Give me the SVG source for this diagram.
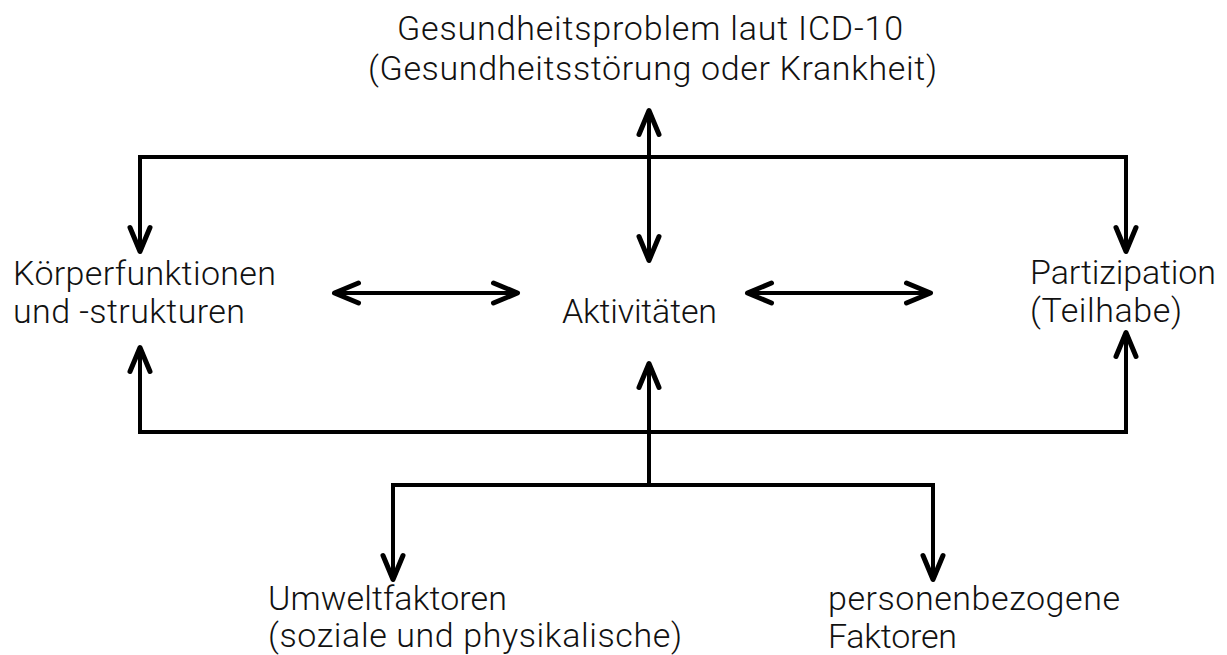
<svg xmlns="http://www.w3.org/2000/svg" width="1227" height="655" viewBox="0 0 1227 655">
  <style>
    .t { font-family: Roboto, "Liberation Sans", Arial, sans-serif; font-weight: 300; font-size: 34px; fill: #111; }
    .c { fill: none; stroke: #000; stroke-width: 4; stroke-linejoin: miter; }
  </style>
  <defs>
    <marker id="ah" markerUnits="userSpaceOnUse" orient="auto-start-reverse" refX="0" refY="0" markerWidth="40" markerHeight="30" viewBox="-30 -15 40 30" overflow="visible">
      <path d="M-24,-10 L0,0 L-24,10" fill="none" stroke="#000" stroke-width="5" stroke-linejoin="round" stroke-linecap="round"/>
    </marker>
  </defs>
  <rect width="1227" height="655" fill="#fff"/>

  <g id="connectors">
    <path class="c" d="M140,251.5 V157 H1126 V251.5" marker-start="url(#ah)" marker-end="url(#ah)"/>
    <path class="c" d="M649,110.5 V260.5" marker-start="url(#ah)" marker-end="url(#ah)"/>
    <path class="c" d="M334.5,293 H517.5" marker-start="url(#ah)" marker-end="url(#ah)"/>
    <path class="c" d="M747.5,293 H930.5" marker-start="url(#ah)" marker-end="url(#ah)"/>
    <path class="c" d="M140,347.5 V432 H1126 V332.5" marker-start="url(#ah)" marker-end="url(#ah)"/>
    <path class="c" d="M649,485 V363.5" marker-end="url(#ah)"/>
    <path class="c" d="M393,579.5 V485 H933 V579.5" marker-start="url(#ah)" marker-end="url(#ah)"/>
  </g>

  <g id="gesundheitsproblem">
    <text class="t" x="397" y="40" textLength="506" lengthAdjust="spacing">Gesundheitsproblem laut ICD-10</text>
    <text class="t" x="368" y="80" textLength="569" lengthAdjust="spacing">(Gesundheitsstörung oder Krankheit)</text>
  </g>
  <g id="koerperfunktionen">
    <text class="t" x="13" y="285" textLength="263" lengthAdjust="spacing">Körperfunktionen</text>
    <text class="t" x="13" y="323" textLength="232" lengthAdjust="spacing">und -strukturen</text>
  </g>
  <g id="aktivitaeten">
    <text class="t" x="562" y="323" textLength="155" lengthAdjust="spacing">Aktivitäten</text>
  </g>
  <g id="partizipation">
    <text class="t" x="1030" y="284" textLength="186" lengthAdjust="spacing">Partizipation</text>
    <text class="t" x="1030" y="322" textLength="152" lengthAdjust="spacing">(Teilhabe)</text>
  </g>
  <g id="umweltfaktoren">
    <text class="t" x="268" y="610" textLength="239" lengthAdjust="spacing">Umweltfaktoren</text>
    <text class="t" x="268" y="647" textLength="414" lengthAdjust="spacing">(soziale und physikalische)</text>
  </g>
  <g id="personenbezogene">
    <text class="t" x="828" y="610" textLength="292" lengthAdjust="spacing">personenbezogene</text>
    <text class="t" x="828" y="648" textLength="129" lengthAdjust="spacing">Faktoren</text>
  </g>
</svg>
